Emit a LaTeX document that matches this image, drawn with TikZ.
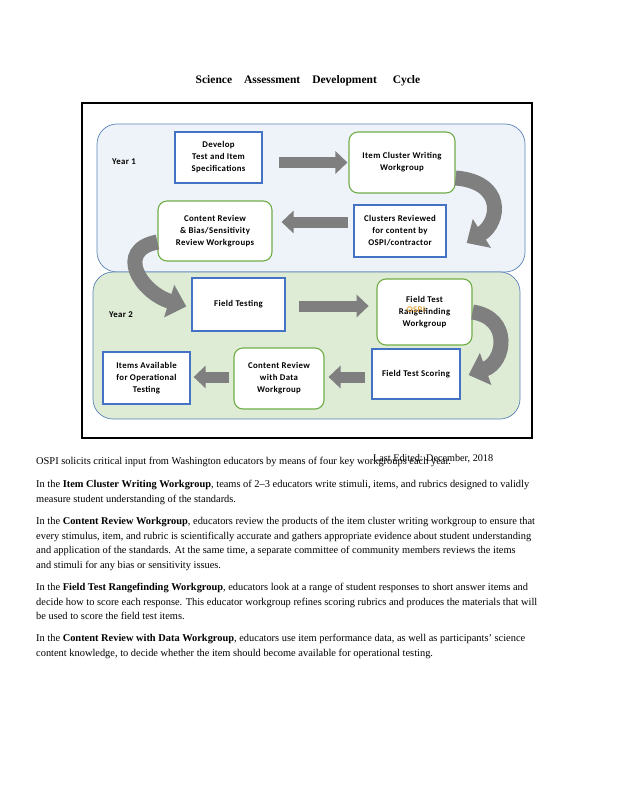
\documentclass[tikz,border=0pt]{standalone}
\usepackage{fontspec}
\setmainfont{Liberation Serif}
\newfontfamily\boxfont{Carlito}[LetterSpace=4]
\usetikzlibrary{arrows.meta}

\definecolor{boxblue}{HTML}{4472C4}
\definecolor{boxgreen}{HTML}{70AD47}
\definecolor{yearonefill}{HTML}{EEF3FA}
\definecolor{yeartwofill}{HTML}{DEEBD5}
\definecolor{yearline}{HTML}{5B82B8}
\definecolor{arrowgray}{HTML}{7F7F7F}
\definecolor{ospiorange}{HTML}{E3A546}

\tikzset{
	boxtext/.style={align=center, inner sep=1pt, font=\boxfont\bfseries\fontsize{8.8}{12}\selectfont},
	specbox/.style={boxtext, draw=boxblue, line width=1.3pt, fill=white},
	groupbox/.style={boxtext, draw=boxgreen, line width=1.1pt, fill=white, rounded corners=9pt},
	yearband/.style={draw=yearline, line width=0.7pt, rounded corners=20pt},
	yearlabel/.style={font=\boxfont\bfseries\fontsize{8.8}{10}\selectfont, inner sep=0pt},
	bigarrow/.style={draw=arrowgray, line width=11pt, -{Triangle[width=22pt,length=12pt]}},
	curvearrow/.style={draw=arrowgray, line width=15pt, -{Triangle[width=33pt,length=18pt]}},
	para/.style={anchor=north west, inner sep=0pt, align=left, font=\fontsize{10.4}{14.5}\selectfont},
}

\begin{document}
\begin{tikzpicture}[x=1pt,y=-1pt]
	\fill[white] (0,0) rectangle (618,800);
	\useasboundingbox (0,0) rectangle (618,800);

	% title
	\node[font=\bfseries\fontsize{11.5}{13}\selectfont] (title) at (308,81)
		{Science\hspace{12pt}Assessment\hspace{12pt}Development\hspace{16pt}Cycle};

	% frame and the two years
	\draw[black, line width=2pt] (82,103) rectangle (532,438);
	\draw[yearband, fill=yearonefill] (97,124) rectangle (525,272);
	\draw[yearband, fill=yeartwofill] (93,272) rectangle (520,419);
	\node[yearlabel] (yearone) at (124,162) {Year 1};
	\node[yearlabel] (yeartwo) at (121,315) {Year 2};

	% Year 1
	\node[specbox, minimum width=87pt, minimum height=51pt] (develop) at (218.5,157.5)
		{Develop\\Test and Item\\Specifications};
	\node[groupbox, minimum width=106pt, minimum height=61pt] (itemcluster) at (402,162.5)
		{Item Cluster Writing\\Workgroup};
	\node[specbox, minimum width=92pt, minimum height=52pt] (clusters) at (400,231)
		{Clusters Reviewed\\for content by\\OSPI/contractor};
	\node[groupbox, minimum width=114pt, minimum height=60pt] (contentrev) at (215,231)
		{Content Review\\\& Bias/Sensitivity\\Review Workgroups};

	% Year 2
	\node[specbox, minimum width=93pt, minimum height=53pt] (fieldtest) at (238.5,304.5)
		{Field Testing};
	\node[groupbox, minimum width=95pt, minimum height=66pt] (rangefind) at (424.5,312)
		{Field Test\\Rangefinding\\Workgroup};
	\node[font=\boxfont\bfseries\fontsize{8.8}{10}\selectfont, text=ospiorange, inner sep=0pt] (ospi) at (416,310) {OSPI};
	\node[specbox, minimum width=88pt, minimum height=50pt] (scoring) at (416,374)
		{Field Test Scoring};
	\node[groupbox, minimum width=90pt, minimum height=61pt] (withdata) at (279,378.5)
		{Content Review\\with Data\\Workgroup};
	\node[specbox, minimum width=87pt, minimum height=52pt] (items) at (146.5,378)
		{Items Available\\for Operational\\Testing};

	% straight arrows
	\draw[bigarrow, shorten <=16pt, shorten >=1pt] (develop.east |- itemcluster.west) -- (itemcluster.west);
	\draw[bigarrow, shorten <=5pt, shorten >=9pt] ([yshift=9pt]clusters.west) -- ([yshift=9pt]clusters.west -| contentrev.east);
	\draw[bigarrow, shorten <=13pt, shorten >=9pt] (fieldtest.east) ++(0,1.5) -- ++(92,0);
	\draw[bigarrow, shorten <=6pt, shorten >=4pt] ([yshift=-3pt]scoring.west) -- ([yshift=-3pt]scoring.west -| withdata.east);
	\draw[bigarrow, shorten <=4pt, shorten >=3pt] ([yshift=1.5pt]withdata.west) -- ([yshift=1.5pt]withdata.west -| items.east);

	% curved arrows
	\draw[curvearrow] ([yshift=-15.5pt]itemcluster.east) .. controls (505,182) and (500,222) .. ([xshift=20pt,yshift=-12pt]clusters.east);
	\draw[curvearrow] ([yshift=-11pt]contentrev.west) .. controls (115,250) and (140,292) .. ([xshift=-5pt,yshift=-2pt]fieldtest.west);
	\draw[curvearrow] (rangefind.east) .. controls (512,318) and (505,362) .. ([xshift=8pt,yshift=-1pt]scoring.east);

	% text below
	\node[para] (intro) at (36,457)
		{OSPI solicits critical input from Washington educators by means of four key workgroups each year.};
	\node[anchor=base west, inner sep=0pt, font=\fontsize{10.2}{11}\selectfont] (edited) at (373,461)
		{Last Edited: December, 2018};
	\node[para] (parawriting) at (36,480)
		{In the \textbf{Item Cluster Writing Workgroup}, teams of 2--3 educators write stimuli, items, and rubrics designed to validly\\
		measure student understanding of the standards.};
	\node[para] (parareview) at (36,517)
		{In the \textbf{Content Review Workgroup}, educators review the products of the item cluster writing workgroup to ensure that\\
		every stimulus, item, and rubric is scientifically accurate and gathers appropriate evidence about student understanding\\
		and application of the standards. At the same time, a separate committee of community members reviews the items\\
		and stimuli for any bias or sensitivity issues.};
	\node[para] (pararange) at (36,583)
		{In the \textbf{Field Test Rangefinding Workgroup}, educators look at a range of student responses to short answer items and\\
		decide how to score each response. This educator workgroup refines scoring rubrics and produces the materials that will\\
		be used to score the field test items.};
	\node[para] (paradata) at (36,634)
		{In the \textbf{Content Review with Data Workgroup}, educators use item performance data, as well as participants' science\\
		content knowledge, to decide whether the item should become available for operational testing.};
\end{tikzpicture}
\end{document}
